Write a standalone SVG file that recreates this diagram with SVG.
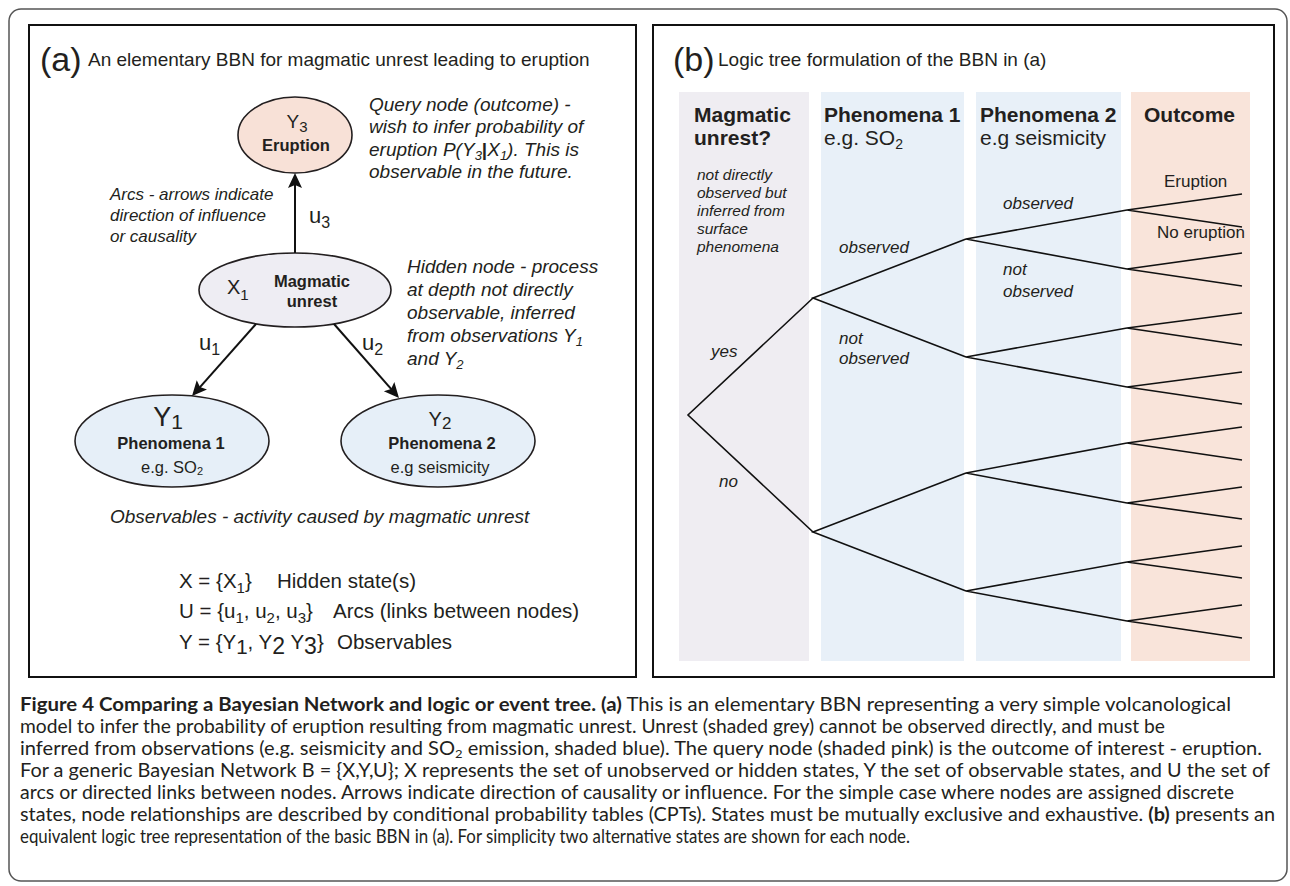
<svg xmlns="http://www.w3.org/2000/svg" width="1290" height="886" viewBox="0 0 1290 886">
<defs>
<style>
text{font-family:"Liberation Sans",Arial,sans-serif;fill:#231f20}
.it{font-style:italic}
.b{font-weight:bold}
.cap{font-family:Lato,"Open Sans","Liberation Sans",sans-serif;font-size:18.5px;fill:#231f20}
.node{stroke:#231f20;stroke-width:1.6}
.arc{stroke:#111;stroke-width:2;fill:none}
.tree{stroke:#111;stroke-width:1.6;fill:none;stroke-linejoin:miter}
.panel{fill:none;stroke:#111;stroke-width:2}
</style>
<marker id="ah" markerUnits="userSpaceOnUse" markerWidth="16" markerHeight="16" refX="12" refY="7" orient="auto">
<path d="M0,0 L15,7 L0,14 L3,7 z" fill="#111"/>
</marker>
</defs>
<rect x="0" y="0" width="1290" height="886" fill="#fff"/>
<rect x="9" y="9" width="1278" height="872" rx="12" ry="12" fill="none" stroke="#555" stroke-width="1.5"/>

<!-- Panel (a) -->
<g id="panel-a">
<rect class="panel" x="29" y="25" width="607" height="652"/>
<text x="40" y="71" font-size="34">(a)</text>
<text x="88" y="66" font-size="19">An elementary BBN for magmatic unrest leading to eruption</text>
</g>

<g id="node-eruption">
<ellipse class="node" cx="295" cy="135" rx="57" ry="38" fill="#f8e1d7"/>
<text x="297" y="128" font-size="19" text-anchor="middle">Y<tspan font-size="15" dy="4">3</tspan></text>
<text class="b" x="296" y="151" font-size="16.5" text-anchor="middle">Eruption</text>
</g>

<g id="node-magmatic">
<ellipse class="node" cx="295" cy="290" rx="96" ry="37" fill="#eeedf3"/>
<text x="227" y="294" font-size="20">X<tspan font-size="15" dy="6">1</tspan></text>
<text class="b" x="312" y="287" font-size="16.5" text-anchor="middle">Magmatic</text>
<text class="b" x="312" y="307" font-size="16.5" text-anchor="middle">unrest</text>
</g>

<g id="node-y1">
<ellipse class="node" cx="172" cy="441" rx="97" ry="46" fill="#e6eff8"/>
<text x="168" y="426" font-size="27" text-anchor="middle">Y<tspan font-size="21" dy="3">1</tspan></text>
<text class="b" x="171" y="449" font-size="16.5" text-anchor="middle">Phenomena 1</text>
<text x="172" y="473" font-size="16.5" text-anchor="middle">e.g. SO<tspan font-size="11" dy="2">2</tspan></text>
</g>

<g id="node-y2">
<ellipse class="node" cx="438" cy="441" rx="97" ry="46" fill="#e6eff8"/>
<text x="440" y="426" font-size="20" text-anchor="middle">Y<tspan font-size="17" dy="3">2</tspan></text>
<text class="b" x="442" y="449" font-size="16.5" text-anchor="middle">Phenomena 2</text>
<text x="440" y="473" font-size="16.5" text-anchor="middle">e.g seismicity</text>
</g>

<g id="connectors-a">
<line class="arc" x1="295" y1="253" x2="295" y2="176" marker-end="url(#ah)"/>
<line class="arc" x1="256" y1="324" x2="194" y2="393.8" marker-end="url(#ah)"/>
<line class="arc" x1="334" y1="324" x2="397" y2="395.7" marker-end="url(#ah)"/>
<text x="309" y="223" font-size="22">u<tspan font-size="16" dy="5">3</tspan></text>
<text x="199" y="350" font-size="22">u<tspan font-size="16" dy="5">1</tspan></text>
<text x="362" y="350" font-size="22">u<tspan font-size="16" dy="5">2</tspan></text>
</g>

<g id="notes-a">
<text class="it" font-size="19">
<tspan x="369" y="111">Query node (outcome) -</tspan>
<tspan x="369" y="133">wish to infer probability of</tspan>
<tspan x="369" y="156">eruption P(Y<tspan font-size="13" dy="4">3</tspan><tspan dy="-4" font-style="normal" font-weight="bold">|</tspan>X<tspan font-size="13" dy="4">1</tspan><tspan dy="-4">). This is</tspan></tspan>
<tspan x="369" y="178">observable in the future.</tspan>
</text>
<text class="it" font-size="17">
<tspan x="110" y="200">Arcs - arrows indicate</tspan>
<tspan x="110" y="221">direction of influence</tspan>
<tspan x="110" y="242">or causality</tspan>
</text>
<text class="it" font-size="19">
<tspan x="407" y="273">Hidden node - process</tspan>
<tspan x="407" y="296">at depth not directly</tspan>
<tspan x="407" y="319">observable, inferred</tspan>
<tspan x="407" y="342">from observations Y<tspan font-size="13" dy="4">1</tspan></tspan>
<tspan x="407" y="365">and Y<tspan font-size="13" dy="4">2</tspan></tspan>
</text>
<text class="it" x="110" y="523" font-size="19">Observables - activity caused by magmatic unrest</text>
<text font-size="20.5" x="179" y="588">X = {X<tspan font-size="15" dy="5">1</tspan><tspan dy="-5">}</tspan></text>
<text font-size="20.5" x="277" y="588">Hidden state(s)</text>
<text font-size="20.5" x="179" y="618">U = {u<tspan font-size="15" dy="5">1</tspan><tspan dy="-5">, u</tspan><tspan font-size="15" dy="5">2</tspan><tspan dy="-5">, u</tspan><tspan font-size="15" dy="5">3</tspan><tspan dy="-5">}</tspan></text>
<text font-size="20.5" x="333" y="618">Arcs (links between nodes)</text>
<text font-size="20.5" x="179" y="649">Y = {Y<tspan dy="5">1</tspan><tspan dy="-5">, Y</tspan><tspan font-size="23" dy="5">2</tspan><tspan dy="-5"> Y</tspan><tspan font-size="23" dy="5">3</tspan><tspan dy="-5">}</tspan></text>
<text font-size="20.5" x="337" y="649">Observables</text>
</g>

<!-- Panel (b) -->
<g id="panel-b">
<rect class="panel" x="653" y="25" width="621" height="652"/>
<text x="673" y="71" font-size="34">(b)</text>
<text x="718" y="66" font-size="19">Logic tree formulation of the BBN in (a)</text>
<rect x="679" y="92" width="130" height="569" fill="#efedf2"/>
<rect x="821" y="92" width="143" height="569" fill="#e8f0f8"/>
<rect x="976" y="92" width="145" height="569" fill="#e8f0f8"/>
<rect x="1131" y="92" width="119" height="569" fill="#f9e4da"/>
</g>

<g id="col-unrest">
<text class="b" x="694" y="122" font-size="21">Magmatic</text>
<text class="b" x="694" y="145" font-size="21">unrest?</text>
<text class="it" font-size="15.5">
<tspan x="697" y="180">not directly</tspan>
<tspan x="697" y="198">observed but</tspan>
<tspan x="697" y="216">inferred from</tspan>
<tspan x="697" y="234">surface</tspan>
<tspan x="697" y="252">phenomena</tspan>
</text>
<text class="it" x="711" y="357" font-size="17">yes</text>
<text class="it" x="719" y="487" font-size="17">no</text>
</g>

<g id="col-phen1">
<text class="b" x="824" y="122" font-size="21">Phenomena 1</text>
<text x="824" y="145" font-size="21">e.g. SO<tspan font-size="14" dy="4">2</tspan></text>
<text class="it" x="839" y="253" font-size="17">observed</text>
<text class="it" font-size="17"><tspan x="839" y="344">not</tspan><tspan x="839" y="364">observed</tspan></text>
</g>

<g id="col-phen2">
<text class="b" x="980" y="122" font-size="21">Phenomena 2</text>
<text x="980" y="145" font-size="21">e.g seismicity</text>
<text class="it" x="1003" y="209" font-size="17">observed</text>
<text class="it" font-size="17"><tspan x="1003" y="275">not</tspan><tspan x="1003" y="297">observed</tspan></text>
</g>

<g id="col-outcome">
<text class="b" x="1144" y="122" font-size="21">Outcome</text>
<text x="1164" y="187" font-size="17">Eruption</text>
<text x="1157" y="238" font-size="17">No eruption</text>
</g>

<g id="connectors-b">
<path class="tree" d="M813,298 L688,415 L813,532"/>
<path class="tree" d="M966,239 L813,298 L966,357"/>
<path class="tree" d="M966,473 L813,532 L966,591"/>
<path class="tree" d="M1127,210 L966,239 L1127,269"/>
<path class="tree" d="M1127,328 L966,357 L1127,387"/>
<path class="tree" d="M1127,443 L966,473 L1127,503"/>
<path class="tree" d="M1127,562 L966,591 L1127,621"/>
<path class="tree" d="M1242,194 L1127,210 L1242,227"/>
<path class="tree" d="M1242,253 L1127,269 L1242,286"/>
<path class="tree" d="M1242,313 L1127,328 L1242,345"/>
<path class="tree" d="M1242,372 L1127,387 L1242,404"/>
<path class="tree" d="M1242,427 L1127,443 L1242,460"/>
<path class="tree" d="M1242,487 L1127,503 L1242,519"/>
<path class="tree" d="M1242,546 L1127,562 L1242,578"/>
<path class="tree" d="M1242,605 L1127,621 L1242,638"/>
</g>

<g id="caption">
<text class="cap" x="20" y="711" textLength="1211" lengthAdjust="spacingAndGlyphs"><tspan font-weight="bold">Figure 4 Comparing a Bayesian Network and logic or event tree. (a)</tspan> This is an elementary BBN representing a very simple volcanological</text>
<text class="cap" x="20" y="733" textLength="1145" lengthAdjust="spacingAndGlyphs">model to infer the probability of eruption resulting from magmatic unrest. Unrest (shaded grey) cannot be observed directly, and must be</text>
<text class="cap" x="20" y="755" textLength="1242" lengthAdjust="spacingAndGlyphs">inferred from observations (e.g. seismicity and SO<tspan font-size="12" dy="3">2</tspan><tspan dy="-3"> emission, shaded blue). The query node (shaded pink) is the outcome of interest - eruption.</tspan></text>
<text class="cap" x="20" y="777" textLength="1250" lengthAdjust="spacingAndGlyphs">For a generic Bayesian Network B = {X,Y,U}; X represents the set of unobserved or hidden states, Y the set of observable states, and U the set of</text>
<text class="cap" x="20" y="799" textLength="1214" lengthAdjust="spacingAndGlyphs">arcs or directed links between nodes. Arrows indicate direction of causality or influence. For the simple case where nodes are assigned discrete</text>
<text class="cap" x="20" y="821" textLength="1255" lengthAdjust="spacingAndGlyphs">states, node relationships are described by conditional probability tables (CPTs). States must be mutually exclusive and exhaustive. <tspan font-weight="bold">(b)</tspan> presents an</text>
<text class="cap" x="20" y="843" textLength="890" lengthAdjust="spacingAndGlyphs">equivalent logic tree representation of the basic BBN in (a). For simplicity two alternative states are shown for each node.</text>
</g>
</svg>
